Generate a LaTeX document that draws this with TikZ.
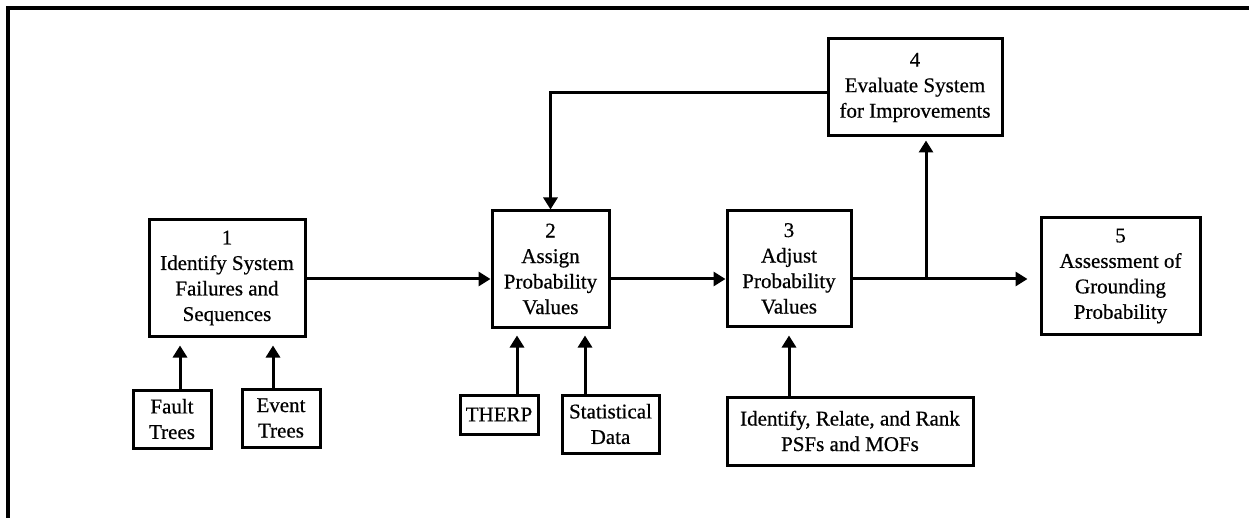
\documentclass[tikz,border=0pt]{standalone}
\usepackage{fontspec}
\setmainfont[FakeBold=0.6]{Liberation Serif}
\usetikzlibrary{arrows.meta}
\begin{document}
\begin{tikzpicture}[x=1pt,y=-1pt,
  every node/.style={font=\fontsize{21}{25.5}\selectfont},
  box/.style={draw,line width=3pt,align=center,inner sep=0pt},
  conn/.style={line width=3pt},
  arr/.style={conn,-{Triangle[length=12pt,width=14pt]}}]
\useasboundingbox (0,0) rectangle (1249,518);

% partial frame (top and left edges)
\draw[line width=3.2pt] (8,518) -- (8,8) -- (1249,8);

% main process boxes
\node[box,minimum width=156pt,minimum height=116pt] (b1) at (227,278)
  {1\\Identify System\\Failures and\\Sequences};
\node[box,minimum width=117pt,minimum height=116pt] (b2) at (550.5,269)
  {2\\Assign\\Probability\\Values};
\node[box,minimum width=124pt,minimum height=115pt] (b3) at (789,268.5)
  {3\\Adjust\\Probability\\Values};
\node[box,minimum width=174pt,minimum height=97pt] (b4) at (915,87.5)
  {4\\Evaluate System\\for Improvements};
\node[box,minimum width=159pt,minimum height=116pt] (b5) at (1120.5,276)
  {5\\Assessment of\\Grounding\\Probability};

% input boxes
\node[box,minimum width=78pt,minimum height=58pt] (fault) at (172,419) {Fault\\Trees};
\node[box,minimum width=78pt,minimum height=58pt] (event) at (281,418) {Event\\Trees};
\node[box,minimum width=78pt,minimum height=39pt] (therp) at (499,414.5) {THERP};
\node[box,minimum width=97pt,minimum height=58pt] (stat) at (610.5,424) {Statistical\\Data};
\node[box,minimum width=246pt,minimum height=68pt] (psf) at (850,431)
  {Identify, Relate, and Rank\\PSFs and MOFs};

% main flow
\coordinate (row) at (0,279);
\coordinate (jn) at (926,279);
\draw[arr] (b1.east |- row) -- (b2.west |- row);
\draw[arr] (b2.east |- row) -- (b3.west |- row);
\draw[arr,shorten >=12pt] (b3.east |- row) -- (b5.west |- row);
\draw[arr,shorten >=3pt] (jn) -- (jn |- b4.south);

% feedback from step 4 to step 2
\draw[arr] ([yshift=-5.5pt]b4.west) -| (b2.north);

% inputs
\draw[arr,shorten >=8pt] ([xshift=8pt]fault.north) -- ([xshift=8pt]fault.north |- b1.south);
\draw[arr,shorten >=8pt] ([xshift=-8pt]event.north) -- ([xshift=-8pt]event.north |- b1.south);
\draw[arr,shorten >=7pt] ([xshift=18pt]therp.north) -- ([xshift=18pt]therp.north |- b2.south);
\draw[arr,shorten >=7pt] ([xshift=-25.5pt]stat.north) -- ([xshift=-25.5pt]stat.north |- b2.south);
\draw[arr,shorten >=8pt] (psf.north -| b3.south) -- (b3.south);
\end{tikzpicture}
\end{document}
